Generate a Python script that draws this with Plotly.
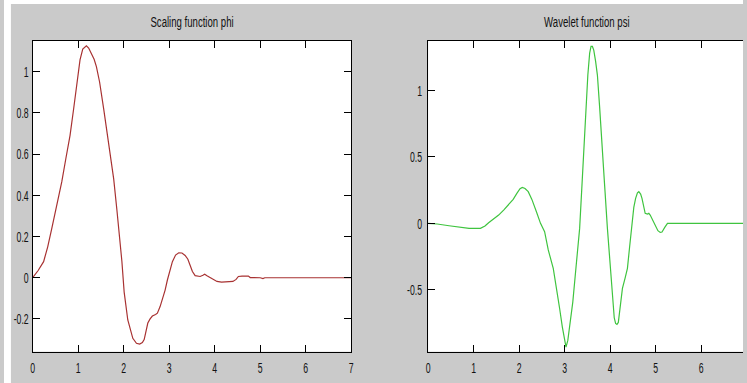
import plotly.graph_objects as go

# ---- data ----
phi_x = [0, 0.12, 0.24, 0.33, 0.42, 0.53, 0.64, 0.73, 0.82, 0.9, 0.96, 1.04, 1.1, 1.18, 1.23, 1.29,
         1.35, 1.40, 1.47, 1.56, 1.65, 1.72, 1.78, 1.85, 1.91, 1.96, 2.01, 2.09, 2.2, 2.28, 2.35,
         2.41, 2.45, 2.49, 2.53, 2.58, 2.63, 2.7, 2.74, 2.8, 2.85, 2.91, 2.96, 3.02, 3.07, 3.14,
         3.21, 3.28, 3.35, 3.41, 3.46, 3.51, 3.57, 3.63, 3.68, 3.74, 3.78, 3.83, 3.9, 3.97, 4.05,
         4.15, 4.3, 4.4, 4.47, 4.52, 4.6, 4.74, 4.78, 5.0, 5.06, 5.1, 7.0]
phi_y = [0, 0.035, 0.078, 0.15, 0.24, 0.35, 0.466, 0.58, 0.69, 0.82, 0.92, 1.057, 1.11, 1.126, 1.115,
         1.09, 1.06, 1.025, 0.95, 0.82, 0.69, 0.58, 0.48, 0.33, 0.21, 0.08, -0.07, -0.205, -0.294,
         -0.318, -0.322, -0.315, -0.30, -0.26, -0.22, -0.20, -0.186, -0.178, -0.172, -0.14, -0.108,
         -0.06, -0.011, 0.045, 0.078, 0.11, 0.121, 0.12, 0.108, 0.09, 0.062, 0.03, 0.01, 0.006,
         0.006, 0.012, 0.017, 0.01, 0.002, -0.008, -0.018, -0.021, -0.021, -0.018, -0.008, 0.006,
         0.008, 0.008, 0.001, 0.0, -0.004, 0.0, 0.0]

psi_x = [0, 0.2, 0.46, 0.7, 0.9, 1.15, 1.25, 1.33, 1.45, 1.55, 1.66, 1.77, 1.87, 1.95, 2.02, 2.07,
         2.13, 2.2, 2.28, 2.38, 2.47, 2.56, 2.64, 2.75, 2.82, 2.89, 2.95, 3.0, 3.03, 3.07, 3.12,
         3.18, 3.25, 3.33, 3.38, 3.43, 3.47, 3.51, 3.55, 3.58, 3.61, 3.64, 3.68, 3.72, 3.77, 3.83,
         3.88, 3.94, 4.0, 4.05, 4.09, 4.12, 4.15, 4.18, 4.22, 4.27, 4.33, 4.38, 4.43, 4.48, 4.52,
         4.56, 4.6, 4.63, 4.67, 4.70, 4.74, 4.77, 4.82, 4.85, 4.88, 4.94, 4.99, 5.05, 5.1, 5.14,
         5.2, 5.26, 7.0]
psi_y = [0, -0.005, -0.018, -0.028, -0.038, -0.038, -0.02, 0.005, 0.035, 0.062, 0.1, 0.138, 0.18,
         0.225, 0.26, 0.27, 0.262, 0.238, 0.18, 0.087, 0.0, -0.063, -0.2, -0.338, -0.48, -0.64,
         -0.78, -0.89, -0.93, -0.88, -0.75, -0.59, -0.33, -0.038, 0.28, 0.61, 0.87, 1.115, 1.28,
         1.33, 1.33, 1.303, 1.22, 1.115, 0.87, 0.589, 0.28, -0.038, -0.33, -0.59, -0.71, -0.752,
         -0.76, -0.745, -0.62, -0.489, -0.41, -0.338, -0.17, 0.012, 0.12, 0.188, 0.23, 0.238,
         0.22, 0.188, 0.12, 0.075, 0.07, 0.075, 0.062, 0.02, -0.025, -0.055, -0.068, -0.065,
         -0.03, 0.0, 0.0]

titles = ["Scaling function phi", "Wavelet function psi"]
phi_xticks = [0, 1, 2, 3, 4, 5, 6, 7]
phi_yticks = [-0.2, 0, 0.2, 0.4, 0.6, 0.8, 1]
phi_yticklabels = ["-0.2", "0", "0.2", "0.4", "0.6", "0.8", "1"]
psi_xticks = [0, 1, 2, 3, 4, 5, 6, 7]
psi_yticks = [-0.5, 0, 0.5, 1]
psi_yticklabels = ["-0.5", "0", "0.5", "1"]

# ---- layout geometry ----
W, H = 747, 383
FONT = "Liberation Sans, Arial, sans-serif"
GRAY = "#cacaca"
top_px, bot_px = 41, 351.7
ydom = [1 - bot_px / H, 1 - top_px / H]
left_dom = [29 / W, 351 / W]
r0 = 428.7
right_dom = [r0 / W, 1.0]
right_xmax = (W - r0) / 46.0

fig = go.Figure()
fig.add_trace(go.Scatter(x=phi_x, y=phi_y, mode="lines", line=dict(color="#a83232", width=1.2),
                         xaxis="x", yaxis="y", showlegend=False, hoverinfo="skip"))
fig.add_trace(go.Scatter(x=psi_x, y=psi_y, mode="lines", line=dict(color="#3fc43f", width=1.2),
                         xaxis="x2", yaxis="y2", showlegend=False, hoverinfo="skip"))

axis_common = dict(showgrid=False, zeroline=False, showline=True, linecolor="black", linewidth=1,
                   ticks="inside", ticklen=7, tickcolor="black", tickwidth=1,
                   tickfont=dict(family=FONT, size=15, color="#111111"))

fig.update_layout(
    width=W, height=H,
    margin=dict(l=0, r=0, t=0, b=0),
    paper_bgcolor=GRAY, plot_bgcolor="white",
    xaxis=dict(domain=left_dom, anchor="y", range=[0, 7], tickvals=phi_xticks,
               ticktext=[str(v) for v in phi_xticks], mirror="ticks", ticklabelstandoff=2,
               **axis_common),
    yaxis=dict(domain=ydom, anchor="x", range=[-0.359, 1.149], tickvals=phi_yticks,
               ticktext=phi_yticklabels, mirror="ticks", **axis_common),
    xaxis2=dict(domain=right_dom, anchor="y2", range=[0, right_xmax], tickvals=psi_xticks,
                ticktext=[str(v) for v in psi_xticks], mirror="ticks", ticklabelstandoff=2,
                **axis_common),
    yaxis2=dict(domain=ydom, anchor="x2", range=[-0.965, 1.371], tickvals=psi_yticks,
                ticktext=psi_yticklabels, mirror=False, ticklabelstandoff=2, **axis_common),
    shapes=[
        dict(type="rect", xref="paper", yref="paper", x0=0, x1=1, y0=1 - 4 / H, y1=1,
             fillcolor="white", line=dict(width=0), layer="above"),
        dict(type="rect", xref="paper", yref="paper", x0=0, x1=7 / W, y0=0, y1=1,
             fillcolor="white", line=dict(width=0), layer="above"),
    ],
    annotations=[
        dict(text=titles[0], x=(left_dom[0] + left_dom[1]) / 2, y=1 - 22 / H, xref="paper",
             yref="paper", showarrow=False, xanchor="center", yanchor="middle",
             font=dict(family=FONT, size=15, color="#111111")),
        dict(text=titles[1], x=(r0 + 750.7) / 2 / W, y=1 - 22 / H, xref="paper",
             yref="paper", showarrow=False, xanchor="center", yanchor="middle",
             font=dict(family=FONT, size=15, color="#111111")),
    ],
)

# The reference's lettering is tall and narrow; squeeze each text horizontally about its anchor.
squeeze_js = """
document.body.style.margin='0';
document.body.style.overflow='hidden';
document.querySelectorAll('.main-svg text').forEach(function(t){
  var x = parseFloat(t.getAttribute('x') || 0), y = parseFloat(t.getAttribute('y') || 0);
  var s = t.classList.contains('annotation-text') ? 0.64 : 0.58;
  var tr = t.getAttribute('transform') || '';
  t.setAttribute('transform', tr + ' translate(' + x + ',' + y + ') scale(' + s + ',1) translate(' + (-x) + ',' + (-y) + ')');
});
"""

fig.write_html("out.html", config={"displayModeBar": False}, post_script=squeeze_js)
